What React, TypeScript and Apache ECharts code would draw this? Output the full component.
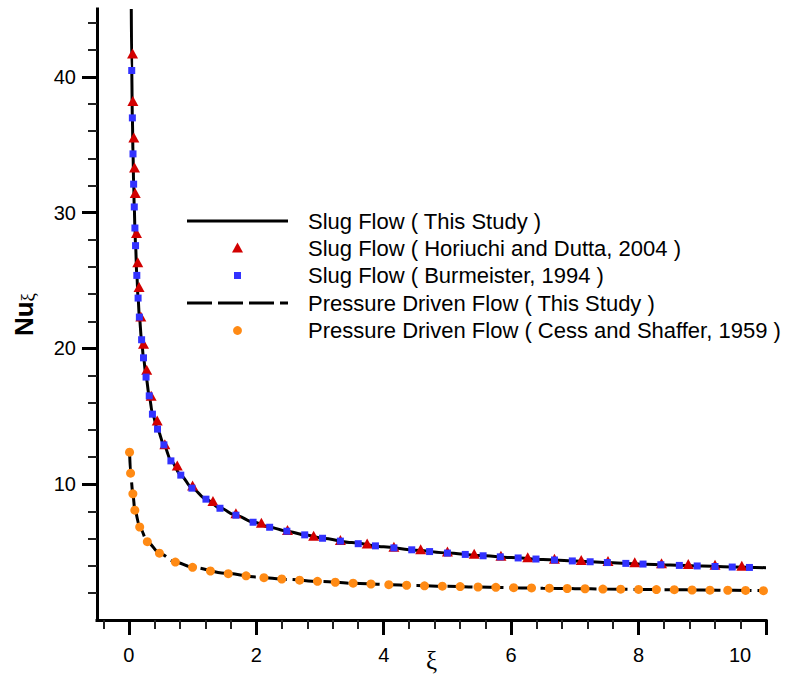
import React, { useEffect, useRef } from "react";
import * as echarts from "echarts";

// ---- data ----
const slugLine: [number, number][] = [
  [0.038, 45.0], [0.045, 40.5], [0.055, 37.0], [0.065, 34.4], [0.075, 32.2], [0.085, 30.4],
  [0.095, 28.9], [0.105, 27.6], [0.125, 25.4], [0.145, 23.7], [0.165, 22.3], [0.2, 20.6],
  [0.23, 19.3], [0.27, 17.9], [0.32, 16.5], [0.37, 15.2], [0.45, 14.05], [0.55, 12.9],
  [0.66, 11.75], [0.815, 10.67], [0.99, 9.72], [1.21, 8.9], [1.43, 8.24], [1.68, 7.72],
  [1.95, 7.22], [2.21, 6.84], [2.48, 6.54], [2.76, 6.27], [3.04, 6.02], [3.5, 5.7],
  [4.0, 5.39], [4.5, 5.14], [5.0, 4.93], [5.5, 4.75], [6.0, 4.6], [6.5, 4.46], [7.0, 4.34],
  [7.5, 4.23], [8.0, 4.13], [8.5, 4.05], [9.0, 3.97], [9.5, 3.9], [10.0, 3.85],
];

const horiuchi: [number, number][] = [
  [0.058, 41.72], [0.063, 38.23], [0.078, 35.53], [0.089, 33.32], [0.1, 31.45], [0.12, 28.5],
  [0.14, 26.34], [0.16, 24.52], [0.188, 22.36], [0.23, 20.34], [0.28, 18.43], [0.35, 16.51],
  [0.445, 14.69], [0.565, 12.95], [0.76, 11.37], [1.0, 9.9], [1.32, 8.77], [1.68, 7.86],
  [2.08, 7.17], [2.49, 6.63], [2.9, 6.2], [3.32, 5.9], [3.74, 5.63], [4.16, 5.4], [4.58, 5.21],
  [5.0, 5.04], [5.42, 4.88], [5.84, 4.74], [6.26, 4.62], [6.68, 4.52], [7.1, 4.42],
  [7.52, 4.34], [7.94, 4.26], [8.36, 4.18], [8.78, 4.12], [9.2, 4.06], [9.62, 4.0],
];

const burmeister: [number, number][] = [
  [0.045, 40.47], [0.055, 36.98], [0.065, 34.33], [0.075, 32.1], [0.085, 30.42], [0.095, 28.87],
  [0.105, 27.57], [0.125, 25.38], [0.145, 23.71], [0.165, 22.31], [0.2, 20.64], [0.23, 19.31],
  [0.27, 17.89], [0.32, 16.51], [0.37, 15.16], [0.45, 14.06], [0.55, 12.9], [0.66, 11.72],
  [0.815, 10.67], [0.99, 9.71], [1.21, 8.9], [1.43, 8.23], [1.68, 7.72], [1.95, 7.2],
  [2.21, 6.83], [2.48, 6.54], [2.76, 6.27], [3.04, 6.02], [3.32, 5.81], [3.6, 5.62],
  [3.87, 5.46], [4.16, 5.31], [4.44, 5.17], [4.72, 5.04], [5.0, 4.93], [5.28, 4.83],
  [5.56, 4.73], [5.83, 4.65], [6.11, 4.57], [6.39, 4.49], [6.68, 4.42], [6.96, 4.35],
  [7.24, 4.29], [7.51, 4.23], [7.8, 4.17], [8.07, 4.12], [8.35, 4.07], [8.64, 4.02],
  [8.92, 3.98], [9.2, 3.94], [9.47, 3.9], [9.74, 3.87],
];

const pressureLine: [number, number][] = [
  [0.011, 12.4], [0.027, 10.8], [0.063, 9.3], [0.094, 8.1], [0.17, 6.85], [0.29, 5.77],
  [0.48, 4.92], [0.73, 4.27], [1.0, 3.88], [1.5, 3.45], [2.0, 3.17], [2.5, 2.99], [3.0, 2.84],
  [3.5, 2.71], [4.0, 2.62], [4.5, 2.54], [5.0, 2.48], [5.5, 2.43], [6.0, 2.38], [6.5, 2.34],
  [7.0, 2.31], [7.5, 2.28], [8.0, 2.25], [8.5, 2.23], [9.0, 2.21], [9.5, 2.19], [10.0, 2.16],
];

const cessShaffer: [number, number][] = [
  [0.011, 12.36], [0.027, 10.81], [0.063, 9.29], [0.094, 8.09], [0.17, 6.85], [0.29, 5.77],
  [0.48, 4.92], [0.73, 4.27], [1.0, 3.88], [1.28, 3.61], [1.56, 3.41], [1.84, 3.25],
  [2.12, 3.12], [2.4, 3.02], [2.68, 2.93], [2.96, 2.85], [3.24, 2.78], [3.52, 2.71],
  [3.8, 2.65], [4.08, 2.6], [4.36, 2.56], [4.64, 2.52], [4.92, 2.49], [5.2, 2.46],
  [5.48, 2.43], [5.76, 2.41], [6.04, 2.38], [6.32, 2.36], [6.6, 2.34], [6.88, 2.32],
  [7.16, 2.3], [7.44, 2.28], [7.72, 2.27], [8.0, 2.25], [8.28, 2.24], [8.56, 2.23],
  [8.84, 2.21], [9.12, 2.2], [9.4, 2.19], [9.68, 2.18], [9.96, 2.16],
];

const xMajorTicks = [0, 2, 4, 6, 8, 10];
const yMajorTicks = [10, 20, 30, 40];
const X_MIN = -0.5;
const X_MAX = 10;
const Y_MIN = 0;
const Y_MAX = 45;

const legendLabels = [
  "Slug Flow ( This Study )",
  "Slug Flow ( Horiuchi and Dutta, 2004 )",
  "Slug Flow ( Burmeister, 1994 )",
  "Pressure Driven Flow ( This Study )",
  "Pressure Driven Flow ( Cess and Shaffer, 1959 )",
];

const RED = "#d20000";
const BLUE = "#3232ff";
const ORANGE = "#ff8a14";
const FONT = "'Liberation Sans', Arial, sans-serif";
const SERIF = "'Liberation Serif', 'DejaVu Serif', serif";

function minorTicks(from: number, to: number, step: number, majors: number[]) {
  const out: number[] = [];
  for (let v = from; v <= to + 1e-9; v += step) {
    const r = Math.round(v * 100) / 100;
    if (!majors.some((m) => Math.abs(m - r) < 1e-6)) out.push(r);
  }
  return out;
}

const xMinorTicks = minorTicks(-0.4, 10, 0.4, xMajorTicks);
const yMinorTicks = minorTicks(2, 44, 2, [0, ...yMajorTicks]);

export default function App() {
  const ref = useRef<HTMLDivElement>(null);

  useEffect(() => {
    document.body.style.margin = "0";
    if (!ref.current) return;
    const chart = echarts.init(ref.current, undefined, { renderer: "svg" });

    const legendRowsY = [221, 248, 275.5, 303, 330.5];
    const graphic: any[] = [
      {
        type: "line",
        shape: { x1: 187, y1: legendRowsY[0], x2: 288, y2: legendRowsY[0] },
        style: { stroke: "#000", lineWidth: 3 },
      },
      {
        type: "polygon",
        shape: {
          points: [
            [237.5, legendRowsY[1] - 5.5],
            [243, legendRowsY[1] + 4.5],
            [232, legendRowsY[1] + 4.5],
          ],
        },
        style: { fill: RED },
      },
      {
        type: "rect",
        shape: { x: 234, y: legendRowsY[2] - 3.5, width: 7, height: 7 },
        style: { fill: BLUE },
      },
      {
        type: "line",
        shape: { x1: 187, y1: legendRowsY[3], x2: 288, y2: legendRowsY[3] },
        style: { stroke: "#000", lineWidth: 3, lineDash: [25, 6] },
      },
      {
        type: "circle",
        shape: { cx: 237.5, cy: legendRowsY[4], r: 4.4 },
        style: { fill: ORANGE },
      },
      ...legendLabels.map((t, i) => ({
        type: "text",
        x: 308,
        y: legendRowsY[i],
        style: {
          text: t,
          fill: "#000",
          font: `22px ${FONT}`,
          verticalAlign: "middle",
          align: "left",
        },
      })),
    ];

    const axisCommon = {
      splitLine: { show: false },
      minorTick: { show: false },
      minorSplitLine: { show: false },
    };

    chart.setOption({
      animation: false,
      backgroundColor: "#fff",
      grid: {
        left: 97,
        right: 30,
        top: 9,
        bottom: 65,
        containLabel: false,
        outerBoundsMode: "none",
      },
      xAxis: [
        {
          ...axisCommon,
          type: "value",
          min: X_MIN,
          max: X_MAX,
          position: "bottom",
          name: "ξ",
          nameLocation: "middle",
          nameGap: 28,
          nameMoveOverlap: false,
          nameTextStyle: { fontSize: 25, fontFamily: SERIF, color: "#000", verticalAlign: "top" },
          axisLine: { show: true, onZero: false, lineStyle: { color: "#000", width: 3, cap: "square" } },
          axisTick: { show: true, customValues: xMajorTicks, length: 15, lineStyle: { color: "#000", width: 3 } },
          axisLabel: {
            show: true,
            customValues: xMajorTicks,
            margin: 25,
            fontSize: 20,
            fontFamily: FONT,
            color: "#000",
            formatter: (v: number) => (v === 10 ? "{last|10}" : String(v)),
            rich: { last: { fontSize: 20, fontFamily: FONT, color: "#000", padding: [0, 52, 0, 0] } },
          },
        },
        {
          ...axisCommon,
          type: "value",
          min: X_MIN,
          max: X_MAX,
          position: "bottom",
          axisLine: { show: false, onZero: false },
          axisTick: { show: true, customValues: xMinorTicks, length: 9, lineStyle: { color: "#222", width: 2 } },
          axisLabel: { show: false },
        },
      ],
      yAxis: [
        {
          ...axisCommon,
          type: "value",
          min: Y_MIN,
          max: Y_MAX,
          position: "left",
          name: "{b|Nu}{s|ξ}",
          nameLocation: "middle",
          nameRotate: 90,
          nameGap: 60,
          nameMoveOverlap: false,
          nameTextStyle: {
            rich: {
              b: { fontSize: 26, fontWeight: "bold", fontFamily: FONT, color: "#000", verticalAlign: "bottom", lineHeight: 30 },
              s: { fontSize: 19, fontFamily: SERIF, color: "#000", verticalAlign: "bottom", lineHeight: 26 },
            },
          },
          axisLine: { show: true, onZero: false, lineStyle: { color: "#000", width: 3, cap: "square" } },
          axisTick: { show: true, customValues: yMajorTicks, length: 15, lineStyle: { color: "#000", width: 3 } },
          axisLabel: {
            show: true,
            customValues: yMajorTicks,
            margin: 21,
            fontSize: 20,
            fontFamily: FONT,
            color: "#000",
          },
        },
        {
          ...axisCommon,
          type: "value",
          min: Y_MIN,
          max: Y_MAX,
          position: "left",
          axisLine: { show: false, onZero: false },
          axisTick: { show: true, customValues: yMinorTicks, length: 9, lineStyle: { color: "#222", width: 2 } },
          axisLabel: { show: false },
        },
      ],
      series: [
        {
          name: legendLabels[0],
          type: "line",
          data: slugLine,
          symbol: "none",
          showSymbol: false,
          smooth: 0.3,
          smoothMonotone: "x",
          lineStyle: { color: "#000", width: 3 },
          z: 2,
        },
        {
          name: legendLabels[3],
          type: "line",
          data: pressureLine,
          symbol: "none",
          showSymbol: false,
          smooth: 0.3,
          smoothMonotone: "x",
          lineStyle: { color: "#000", width: 3, type: [25, 6] },
          z: 2,
        },
        {
          name: legendLabels[1],
          type: "scatter",
          data: horiuchi,
          symbol: "triangle",
          symbolSize: [11, 10],
          itemStyle: { color: RED, opacity: 1 },
          z: 3,
        },
        {
          name: legendLabels[2],
          type: "scatter",
          data: burmeister,
          symbol: "rect",
          symbolSize: 7,
          itemStyle: { color: BLUE, opacity: 1 },
          z: 4,
        },
        {
          name: legendLabels[4],
          type: "scatter",
          data: cessShaffer,
          symbol: "circle",
          symbolSize: 9,
          itemStyle: { color: ORANGE, opacity: 1 },
          z: 5,
        },
      ],
      graphic,
    });

    return () => chart.dispose();
  }, []);

  return (
    <div
      ref={ref}
      style={{ width: 796, height: 685, position: "absolute", left: 0, top: 0, background: "#fff" }}
    />
  );
}
